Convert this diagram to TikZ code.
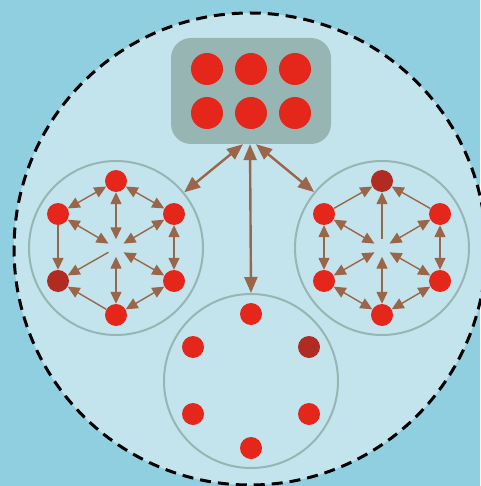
\documentclass[tikz,border=0pt]{standalone}
\usetikzlibrary{arrows.meta, positioning}
\definecolor{skyback}{HTML}{8FCFDF}
\definecolor{paleblue}{HTML}{C3E4EC}
\definecolor{greybox}{HTML}{97B5B3}
\definecolor{dotred}{HTML}{E5261A}
\definecolor{darkred}{HTML}{B22B22}
\definecolor{linkbrown}{HTML}{9A6548}

\begin{document}
\begin{tikzpicture}[
		x=1pt, y=-1pt,
		dot/.style={
			circle,
			fill=dotred,
			minimum size=22pt,
			inner sep=0pt
		},
		bigdot/.style={dot, minimum size=32pt},
		darkdot/.style={dot, fill=darkred},
		ring/.style={
			circle,
			draw=greybox,
			line width=2pt,
			minimum size=174pt,
			inner sep=0pt
		},
		hub/.style={circle, minimum size=17pt, inner sep=0pt},
		link/.style={
			-{Triangle[length=12pt, width=11pt]},
			draw=linkbrown,
			line width=1.4pt
		},
		bilink/.style={
			link,
			{Triangle[length=12pt, width=11pt]}-{Triangle[length=12pt, width=11pt]}
		},
		mainlink/.style={
			{Triangle[length=16pt, width=13pt]}-{Triangle[length=16pt, width=13pt]},
			draw=linkbrown,
			line width=2.4pt
		}
		]
		
		% background
		\fill[skyback] (0,0) rectangle (480,486);
		\useasboundingbox (0,0) rectangle (480,486);
		\draw[fill=paleblue, line width=3pt, dash pattern=on 11pt off 7pt]
			(250,249) circle[radius=236pt];
		
		% top box
		\node[rectangle, rounded corners=20pt, fill=greybox,
			minimum width=160pt, minimum height=106pt] (box) at (251,91) {};
		\node[bigdot] (b1) at (207,69) {};
		\node[bigdot] (b2) at (251,69) {};
		\node[bigdot] (b3) at (295,69) {};
		\node[bigdot] (b4) at (207,113) {};
		\node[bigdot] (b5) at (251,113) {};
		\node[bigdot] (b6) at (295,113) {};
		
		% rings
		\node[ring] (lring) at (116,248) {};
		\node[ring] (rring) at (382,248) {};
		\node[ring] (bring) at (251,381) {};
		
		% left ring
		\node[hub] (lc) at (116,248) {};
		\node[dot] (lt) at (116,181) {};
		\node[dot] (lul) at (58,214) {};
		\node[dot] (lur) at (174,214) {};
		\node[darkdot] (lll) at (58,281) {};
		\node[dot] (llr) at (174,281) {};
		\node[dot] (lb) at (116,315) {};
		
		% right ring
		\node[hub] (rc) at (382,248) {};
		\node[darkdot] (rt) at (382,181) {};
		\node[dot] (rul) at (324,214) {};
		\node[dot] (rur) at (440,214) {};
		\node[dot] (rll) at (324,281) {};
		\node[dot] (rlr) at (440,281) {};
		\node[dot] (rb) at (382,315) {};
		
		% bottom ring
		\node[dot] (bt) at (251,314) {};
		\node[dot] (bul) at (193,347) {};
		\node[darkdot] (bur) at (309,347) {};
		\node[dot] (bll) at (193,414) {};
		\node[dot] (blr) at (309,414) {};
		\node[dot] (bb) at (251,448) {};
		
		%--
		\draw[mainlink] ([xshift=-8pt]box.south) -- (lring);
		\draw[mainlink] ([xshift=-1pt]box.south) -- (bring.north);
		\draw[mainlink] ([xshift=5pt]box.south) -- (rring);
		%--
		\draw[bilink] (lt) -- (lul);
		\draw[bilink] (lt) -- (lur);
		\draw[bilink] (lt) -- (lc);
		\draw[bilink] (lul) -- (lc);
		\draw[bilink] (lur) -- (lc);
		\draw[bilink] (lur) -- (llr);
		\draw[link] (lul) -- (lll);
		\draw[link] (lc) -- (lll);
		\draw[bilink] (llr) -- (lc);
		\draw[bilink] (lb) -- (lc);
		\draw[link] (lb) -- (lll);
		\draw[bilink] (lb) -- (llr);
		%--
		\draw[link] (rul) -- (rt);
		\draw[link] (rur) -- (rt);
		\draw[link] (rc) -- (rt);
		\draw[bilink] (rul) -- (rc);
		\draw[bilink] (rur) -- (rc);
		\draw[bilink] (rul) -- (rll);
		\draw[bilink] (rur) -- (rlr);
		\draw[bilink] (rll) -- (rc);
		\draw[bilink] (rlr) -- (rc);
		\draw[bilink] (rb) -- (rc);
		\draw[bilink] (rll) -- (rb);
		\draw[bilink] (rlr) -- (rb);
		
	\end{tikzpicture}
\end{document}
